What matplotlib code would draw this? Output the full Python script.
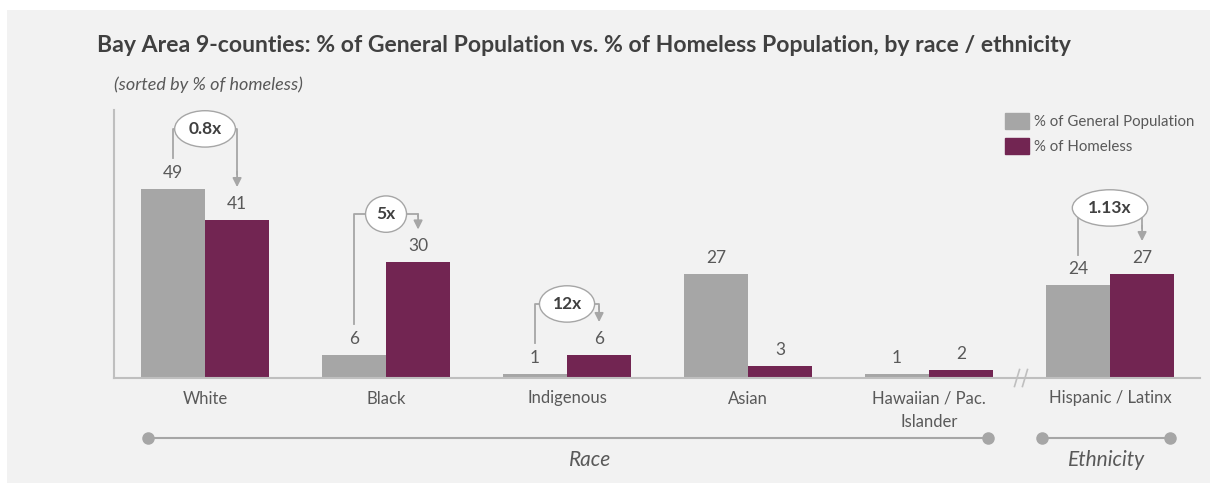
import matplotlib
matplotlib.use('Agg')
import matplotlib.pyplot as plt
from matplotlib.patches import Rectangle, Patch

plt.rcParams['font.family'] = ['Lato', 'DejaVu Sans']

categories = ['White', 'Black', 'Indigenous', 'Asian', 'Hawaiian / Pac.\nIslander', 'Hispanic / Latinx']
general_pop = [49, 6, 1, 27, 1, 24]
homeless = [41, 30, 6, 3, 2, 27]

# ratio call-outs: (category index, label, bubble height)
ratio_idx = [0, 1, 2, 5]
ratio_labels = ['0.8x', '5x', '12x', '1.13x']
bubble_y = [64.6, 42.5, 19.2, 44.1]

GRAY = '#a6a6a6'
PURPLE = '#722552'
TEXT = '#595959'
DARK = '#404040'
LINE = '#a6a6a6'
BG = '#f2f2f2'

fig = plt.figure(figsize=(12.1, 4.83), dpi=100, facecolor='white')
fig.patches.append(Rectangle((7 / 1210, 0), 1, 1 - 10 / 483, transform=fig.transFigure,
                             facecolor=BG, edgecolor='none', zorder=-10))

ax = fig.add_axes([114 / 1210, 105 / 483, 1086 / 1210, 268 / 483])
ax.set_facecolor('none')

w = 0.354
x = list(range(len(categories)))
xg = [i - w / 2 for i in x]
xh = [i + w / 2 for i in x]

ax.bar(xg, general_pop, width=w, color=GRAY, label='% of General Population', zorder=2)
ax.bar(xh, homeless, width=w, color=PURPLE, label='% of Homeless', zorder=2)

for xs, vals in ((xg, general_pop), (xh, homeless)):
    for xi, v in zip(xs, vals):
        ax.annotate(str(v), (xi, v), xytext=(0, 6), textcoords='offset points',
                    ha='center', va='bottom', fontsize=12.5, color=TEXT)

# ratio bubbles with connectors
for i, lab, by in zip(ratio_idx, ratio_labels, bubble_y):
    xl, xr = xg[i], xh[i]
    ax.plot([xl, xl, (xl + xr) / 2], [general_pop[i] + 8, by, by], color=LINE, lw=1.3, zorder=3)
    ax.plot([(xl + xr) / 2, xr, xr], [by, by, homeless[i] + 12], color=LINE, lw=1.3, zorder=3)
    ax.annotate('', xy=(xr, homeless[i] + 8.5), xytext=(xr, homeless[i] + 12.5),
                arrowprops=dict(arrowstyle='-|>', color=LINE, lw=1.3, mutation_scale=13,
                                shrinkA=0, shrinkB=0), zorder=3)
    ax.text((xl + xr) / 2, by, lab, ha='center', va='center', fontsize=12.5, fontweight='bold',
            color=DARK, zorder=5,
            bbox=dict(boxstyle='ellipse,pad=0.28', fc='white', ec=LINE, lw=1))

ax.set_xlim(-0.503, 5.497)
ax.set_ylim(0, 69.5)
ax.set_xticks(x)
ax.set_xticklabels(categories, fontsize=12, color=TEXT, linespacing=1.55)
ax.set_yticks([])
ax.tick_params(axis='x', length=0, pad=9)
for s in ('top', 'right'):
    ax.spines[s].set_visible(False)
for s in ('left', 'bottom'):
    ax.spines[s].set_color('#bfbfbf')
    ax.spines[s].set_linewidth(1.5)

# axis break marks
for bx in (4.486, 4.530):
    ax.plot([bx - 0.014, bx + 0.014], [-2.2, 2.2], color='#bfbfbf', lw=1.2, clip_on=False, zorder=4)

# group brackets
ax.plot([-0.315, 4.326], [-15.6, -15.6], color=LINE, lw=1.5, marker='o', markersize=8,
        markevery=[0, 1], clip_on=False)
ax.plot([4.624, 5.331], [-15.6, -15.6], color=LINE, lw=1.5, marker='o', markersize=8,
        markevery=[0, 1], clip_on=False)
ax.text(2.13, -21.3, 'Race', ha='center', va='center', fontsize=15, style='italic', color=TEXT)
ax.text(4.98, -21.3, 'Ethnicity', ha='center', va='center', fontsize=15, style='italic', color=TEXT)

fig.text(97 / 1210, 1 - 45 / 483,
         'Bay Area 9-counties: % of General Population vs. % of Homeless Population, by race / ethnicity',
         fontsize=16.6, fontweight='bold', color=DARK, va='center')
fig.text(114 / 1210, 1 - 85 / 483, '(sorted by % of homeless)', fontsize=13, style='italic',
         color=TEXT, va='center')

handles = [Patch(color=GRAY), Patch(color=PURPLE)]
fig.legend(handles, ['% of General Population', '% of Homeless'], loc='upper left',
           bbox_to_anchor=(991 / 1210, 1 - 100 / 483), frameon=False, fontsize=10.8,
           handlelength=1.6, handleheight=1.25, handletextpad=0.4, labelspacing=0.55,
           labelcolor=TEXT)

fig.savefig('out.png', dpi=100, facecolor=fig.get_facecolor())
